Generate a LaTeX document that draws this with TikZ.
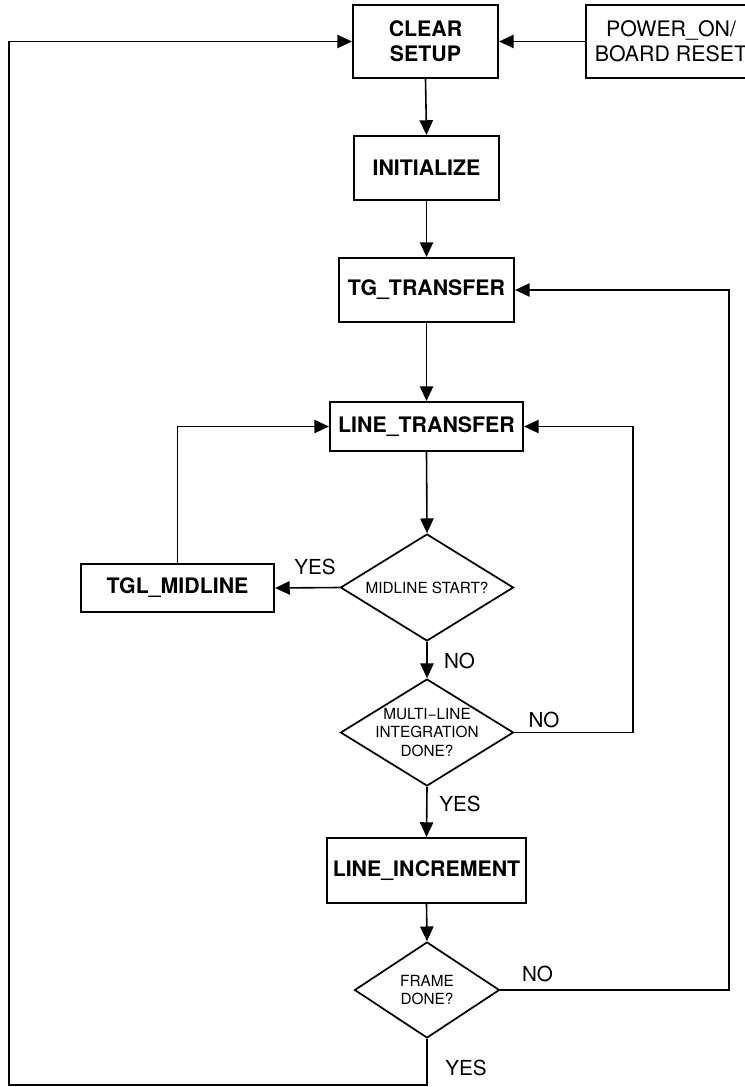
\documentclass[tikz,border=0pt]{standalone}
\usepackage{fontspec}
\setmainfont{TeX Gyre Heros}
\usepackage{tikz}
\usetikzlibrary{shapes.geometric,arrows.meta}

\begin{document}
\begin{tikzpicture}[x=0.75pt,y=-0.75pt,
    state/.style={draw, line width=1.6pt, inner sep=2pt, align=center, font=\fontsize{16}{19}\selectfont\bfseries},
    test/.style={draw, diamond, line width=1.3pt, inner sep=-3pt, align=center, font=\fontsize{11.5}{14}\selectfont},
    lab/.style={font=\fontsize{15.5}{18}\selectfont},
    flow/.style={line width=1.2pt, -{Triangle[length=11pt,width=10pt]}},
    wire/.style={line width=1.2pt}]
    \useasboundingbox (0,0) rectangle (744,1087);
    % states
    \node[state, minimum width=108.75pt, minimum height=54.75pt] (clear) at (425.5,41.5) {CLEAR\\SETUP};
    \node[state, font=\fontsize{16}{19}\selectfont, minimum width=127.5pt, minimum height=54.75pt] (power) at (671,41.5) {POWER\_ON/\\BOARD RESET};
    \node[state, minimum width=108.75pt, minimum height=48pt] (init) at (426.5,168) {INITIALIZE};
    \node[state, minimum width=131.25pt, minimum height=48pt] (tgtransfer) at (426.5,290) {TG\_TRANSFER};
    \node[state, minimum width=144.75pt, minimum height=36.75pt] (linetransfer) at (426.5,426.5) {LINE\_TRANSFER};
    \node[state, minimum width=144.75pt, minimum height=36pt] (tglmid) at (177.5,588) {TGL\_MIDLINE};
    \node[state, minimum width=149.25pt, minimum height=48.75pt] (lineinc) at (426.5,870.5) {LINE\_INCREMENT};
    % tests
    \node[test, shape aspect=1.62, minimum width=129.75pt, minimum height=80.25pt] (midline) at (427,587.5) {MIDLINE START?};
    \node[test, shape aspect=1.62, minimum width=129.75pt, minimum height=80.25pt] (multi) at (427,732.5) {MULTI−LINE\\INTEGRATION\\DONE?};
    \node[test, shape aspect=1.5, minimum width=108.75pt, minimum height=72pt] (frame) at (427,990) {FRAME\\DONE?};
    % corners
    \coordinate (rloop) at (633,426.5);
    \coordinate (rframe) at (729,290);
    \coordinate (bottom) at (9,1085);
    % flow
    \draw[flow] (power.west) -- (clear.east);
    \draw[flow] (clear.south) -- (init.north);
    \draw[flow] (init.south) -- (tgtransfer.north);
    \draw[flow] (tgtransfer.south) -- (linetransfer.north);
    \draw[flow] (linetransfer.south) -- (midline.north);
    \draw[flow] (midline.west) -- (tglmid.east);
    \draw[flow] (tglmid.north) |- (linetransfer.west);
    \draw[flow] (midline.south) -- (multi.north);
    \draw[flow] (multi.east) -| (rloop) -- (linetransfer.east);
    \draw[flow] (multi.south) -- (lineinc.north);
    \draw[flow] (lineinc.south) -- (frame.north);
    \draw[flow] (frame.east) -| (rframe) -- (tgtransfer.east);
    \draw[flow] (frame.south) |- (bottom) |- (clear.west);
    % labels
    \node[lab] (yes1) at (315,567) {YES};
    \node[lab] (no1) at (459.5,661) {NO};
    \node[lab] (no2) at (544,719.5) {NO};
    \node[lab] (yes2) at (460,803.5) {YES};
    \node[lab] (no3) at (537.5,974) {NO};
    \node[lab] (yes3) at (466,1068) {YES};
\end{tikzpicture}
\end{document}
